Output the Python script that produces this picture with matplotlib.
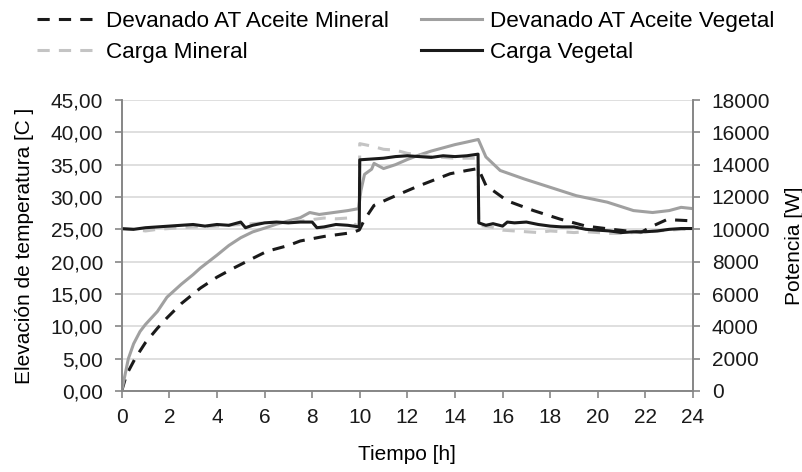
import numpy as np
import matplotlib
matplotlib.use("Agg")
import matplotlib.pyplot as plt
from matplotlib.ticker import FuncFormatter

plt.rcParams['font.family'] = ['Liberation Sans', 'DejaVu Sans']

# ---- data ----
# Devanado AT Aceite Mineral [C]
t_dev_min = [0, 0.2, 0.56, 1, 1.5, 1.9, 2.5, 3.3, 4, 4.7, 5.5, 6.1, 7, 7.5, 8.5, 9.7, 9.98,
             10.2, 10.6, 11.2, 11.7, 12.4, 13.1, 13.8, 14.5, 14.98, 15.3, 16.2, 17.3, 18.4,
             19.5, 20.6, 21.8, 22.3, 22.9, 23.5, 24]
dev_min = [0, 2.5, 5, 7.5, 9.7, 11.3, 13.5, 15.9, 17.6, 19, 20.5, 21.6, 22.5, 23.2, 23.9, 24.5, 24.9,
           26.5, 28.7, 29.7, 30.5, 31.6, 32.6, 33.6, 34.1, 34.4, 31.8, 29.4, 27.9, 26.6,
           25.5, 25.0, 24.5, 25.5, 26.5, 26.4, 26.3]

# Devanado AT Aceite Vegetal [C]
t_dev_veg = [0, 0.28, 0.5, 0.77, 1, 1.5, 1.9, 2.5, 3, 3.3, 4, 4.5, 5, 5.5, 6.1, 6.5, 7, 7.5, 7.9,
             8.3, 8.9, 9.5, 9.95, 10.05, 10.2, 10.5, 10.6, 11, 11.5, 12, 12.5, 13, 13.5, 14, 14.5,
             14.98, 15.3, 15.9, 16.9, 18, 19.1, 20.4, 21.5, 22.3, 23, 23.5, 24]
dev_veg = [0, 5, 7.3, 9.2, 10.3, 12.3, 14.5, 16.5, 18, 19.0, 21, 22.5, 23.7, 24.6, 25.3, 25.8, 26.3,
           26.8, 27.6, 27.3, 27.6, 27.9, 28.2, 31, 33.5, 34.3, 35.2, 34.4, 35, 35.8, 36.5, 37.1,
           37.6, 38.1, 38.5, 38.9, 36.2, 34.1, 32.8, 31.5, 30.2, 29.2, 27.9, 27.6, 27.9, 28.4, 28.2]

# Carga Mineral [W]
t_carga_min = [0, 0.5, 1, 1.5, 2, 3, 4, 5, 5.5, 6, 7, 7.5, 8, 8.5, 9, 9.5, 9.8, 9.98, 10.0, 10.5,
               11, 11.5, 12, 12.5, 13, 13.5, 14, 14.5, 14.97, 15.0, 15.5, 16, 16.5, 17, 17.5,
               18, 18.5, 19, 19.5, 20, 20.5, 21, 21.5, 22, 22.5, 23, 23.5, 24]
carga_min = [10050, 10000, 9900, 10000, 10050, 10150, 10200, 10300, 10350, 10400, 10450, 10500,
             10600, 10700, 10650, 10700, 10300, 10200, 15300, 15150, 14950, 14900, 14700, 14600,
             14500, 14450, 14400, 14400, 14400, 10250, 10150, 9950, 9900, 9850, 9800, 9900,
             9850, 9800, 9850, 9800, 9750, 9750, 9800, 9850, 9900, 9950, 10000, 10000]

# Carga Vegetal [W]
t_carga_veg = [0, 0.5, 1, 1.5, 2, 2.5, 3, 3.5, 4, 4.5, 5, 5.2, 5.5, 6, 6.5, 7, 7.5, 8, 8.2, 8.5,
               9, 9.5, 9.98, 10.0, 10.5, 11, 11.5, 12, 12.5, 13, 13.5, 14, 14.5, 14.97, 15.0,
               15.3, 15.6, 16, 16.2, 16.5, 17, 17.5, 18, 18.5, 19, 19.5, 20, 20.5, 21, 21.5,
               22, 22.5, 23, 23.5, 24]
carga_veg = [10040, 10000, 10100, 10150, 10200, 10250, 10300, 10200, 10300, 10250, 10450, 10100,
             10250, 10400, 10450, 10400, 10450, 10450, 10100, 10150, 10300, 10250, 10150, 14300,
             14350, 14400, 14500, 14550, 14500, 14450, 14550, 14500, 14550, 14650, 10400,
             10250, 10350, 10200, 10450, 10400, 10450, 10300, 10200, 10150, 10150, 10000, 9950,
             9900, 9800, 9850, 9850, 9900, 10000, 10050, 10050]

x_ticks = list(range(0, 25, 2))
y_left_ticks = [0, 5, 10, 15, 20, 25, 30, 35, 40, 45]
y_right_ticks = [0, 2000, 4000, 6000, 8000, 10000, 12000, 14000, 16000, 18000]

axis_gray = '#868686'
fs = 15

fig = plt.figure(figsize=(8.03, 4.72), dpi=100)
ax = fig.add_axes([121.7 / 803, 1 - 391 / 472, (693 - 121.7) / 803, 291 / 472])
ax2 = ax.twinx()

dash = (0, (4, 3))
l1, = ax.plot(t_dev_min, dev_min, color='#1a1a1a', lw=2.2, ls=dash)
l2, = ax.plot(t_dev_veg, dev_veg, color='#a0a0a0', lw=2.2)
l3, = ax2.plot(t_carga_min, carga_min, color='#c4c4c4', lw=2.2, ls=dash)
l4, = ax2.plot(t_carga_veg, carga_veg, color='#1a1a1a', lw=2.2)

ax.set_xlim(0, 24)
ax.set_ylim(0, 45)
ax2.set_ylim(0, 18000)
ax.set_xticks(x_ticks)
ax.set_yticks(y_left_ticks)
ax2.set_yticks(y_right_ticks)
ax.yaxis.set_major_formatter(FuncFormatter(lambda v, p: f"{v:.2f}".replace('.', ',')))

ax.grid(axis='y', color='#d9d9d9', lw=1.2)
ax.set_axisbelow(True)

for a in (ax, ax2):
    a.spines['top'].set_visible(False)
    for s in ('left', 'right', 'bottom'):
        a.spines[s].set_color(axis_gray)
        a.spines[s].set_linewidth(1.2)
    a.tick_params(colors=axis_gray, labelcolor='#1a1a1a', labelsize=fs, length=5, width=1.2)
ax.tick_params(axis='y', pad=8.5)
ax2.tick_params(axis='y', pad=8.5)
ax.tick_params(axis='x', pad=7)

ax.set_xlabel("Tiempo [h]", fontsize=fs, labelpad=13)
ax.set_ylabel("Elevación de temperatura [C ]", fontsize=fs, labelpad=12)
ax2.set_ylabel("Potencia [W]", fontsize=fs, labelpad=10.5)

fig.legend([l1, l3, l2, l4],
           ["Devanado AT Aceite Mineral", "Carga Mineral",
            "Devanado AT Aceite Vegetal", "Carga Vegetal"],
           loc='upper left', bbox_to_anchor=(37 / 803, 1 - 11 / 472), ncol=2, frameon=False,
           fontsize=16.2, handlelength=2.7, handletextpad=0.36, columnspacing=1.43,
           labelspacing=0.45, borderpad=0, borderaxespad=0)

fig.savefig("out.png", dpi=100)
